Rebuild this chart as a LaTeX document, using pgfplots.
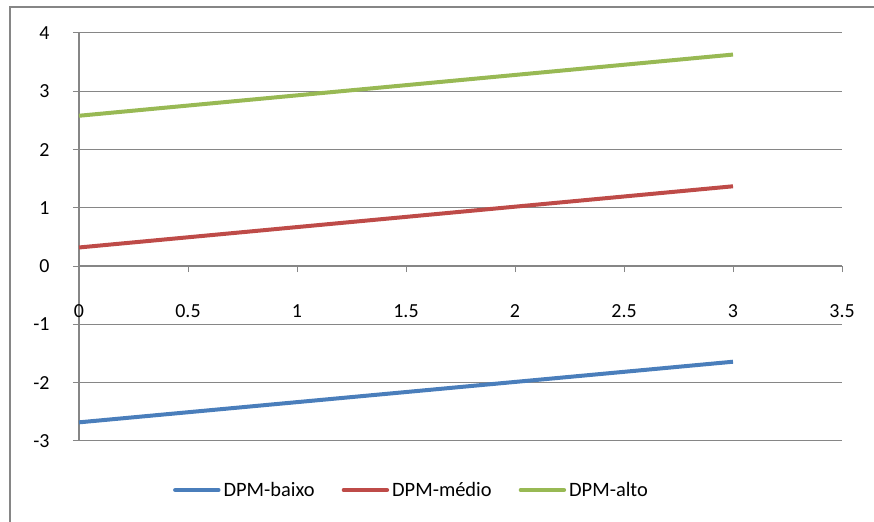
\documentclass[border=0pt]{standalone}
\usepackage{pgfplots}
\pgfplotsset{compat=1.18}
\usepackage{fontspec}
\setmainfont{Carlito}
\definecolor{gridgray}{HTML}{868686}
\definecolor{sblue}{HTML}{4A7EBB}
\definecolor{sred}{HTML}{BE4B48}
\definecolor{sgreen}{HTML}{98B954}
\begin{document}
\begin{tikzpicture}[x=1bp,y=1bp]
\useasboundingbox (-79,-81) rectangle (795,441);
% chart frame
\draw[gridgray, line width=2bp] (-69,-90) -- (-69,434) -- (800,434);
\begin{axis}[
  at={(0,0)}, anchor=south west,
  scale only axis, width=763bp, height=408bp,
  xmin=0, xmax=3.5, ymin=-3, ymax=4,
  xtick={0,0.5,...,3.5}, ytick={-3,-2,...,4},
  axis x line=middle, axis y line=left,
  axis line style={-, gridgray, line width=1.3bp},
  x axis line style={-}, y axis line style={-},
  hide obscured x ticks=false, hide obscured y ticks=false,
  ymajorgrids, grid style={gridgray, line width=1bp},
  tick style={gridgray, line width=1bp}, major tick length=6bp, tick align=outside,
  ticklabel style={font=\fontsize{20}{22}\selectfont, text=black},
  /pgf/number format/assume math mode=true,
  xticklabel style={anchor=base, yshift=-45bp},
  yticklabel style={anchor=east, xshift=-20bp},
  legend columns=3,
  legend style={at={(0.4364,-0.12)}, anchor=center, draw=none, fill=none,
    font=\fontsize{20.5}{23}\selectfont,
    nodes={inner xsep=3bp},
    /tikz/every even column/.append style={column sep=24bp}},
  legend image code/.code={\draw[#1, line width=4.5bp, line cap=round] (0bp,0bp) -- (43bp,0bp);},
]
\addplot[sblue, line width=4bp] coordinates {(0,-2.68) (3,-1.64)};
\addlegendentry{DPM-baixo}
\addplot[sred, line width=4bp] coordinates {(0,0.32) (3,1.37)};
\addlegendentry{DPM-médio}
\addplot[sgreen, line width=4bp] coordinates {(0,2.58) (3,3.63)};
\addlegendentry{DPM-alto}
\end{axis}
\end{tikzpicture}
\end{document}
